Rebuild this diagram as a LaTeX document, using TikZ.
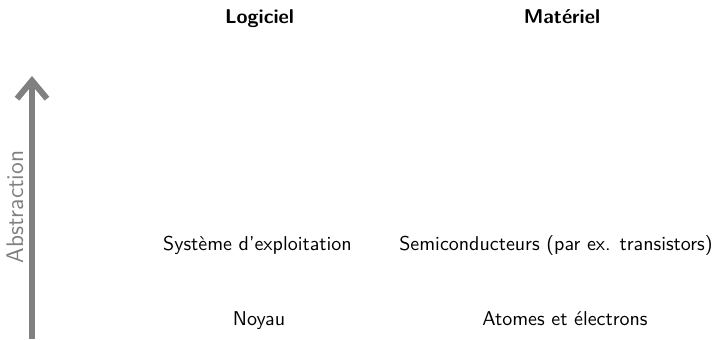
\documentclass[tikz,border=0pt]{standalone}
\usetikzlibrary{arrows.meta}
\definecolor{axisgray}{HTML}{808080}
\begin{document}
\begin{tikzpicture}[x=0.5pt,y=-0.5pt,
  head/.style={font=\sffamily\bfseries, inner sep=0pt, anchor=base},
  item/.style={font=\sffamily, inner sep=0pt, anchor=base},
  axis/.style={draw=axisgray, line width=3pt, -{Straight Barb[length=9pt,width=15pt]}},
  axislabel/.style={font=\sffamily\large, text=axisgray, rotate=90, inner sep=0pt}]
\useasboundingbox (0,0) rectangle (719,339);
\node[head] (log) at (259.5,23) {Logiciel};
\node[head] (mat) at (562,23) {Matériel};
\node[item] (os) at (257.5,250) {Système d'exploitation};
\node[item] (semi) at (556,250) {Semiconducteurs (par ex. transistors)};
\node[item] (noy) at (259,325) {Noyau};
\node[item] (atom) at (565,325) {Atomes et électrons};
\coordinate (abot) at (32,339);
\coordinate (atop) at (32,76);
\draw[axis] (abot) -- (atop);
\node[axislabel] (abs) at (15,207) {Abstraction};
\end{tikzpicture}
\end{document}
